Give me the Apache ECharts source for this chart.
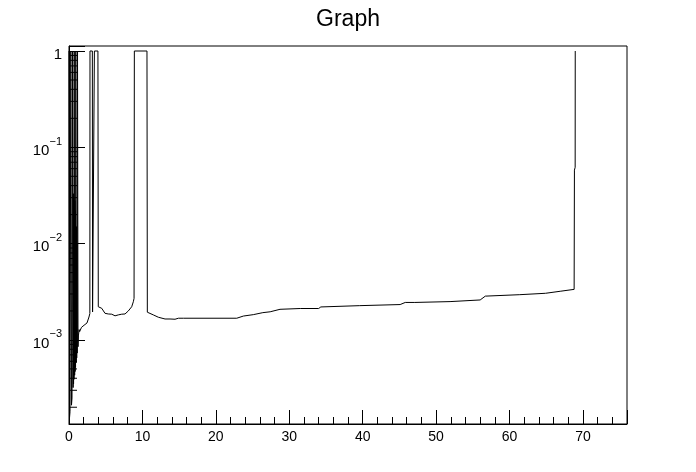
<!DOCTYPE html>
<html>
<head>
<meta charset="utf-8">
<script src="https://cdn.jsdelivr.net/npm/echarts@6/dist/echarts.min.js"></script>
<style>
html,body{margin:0;padding:0;background:#fff;}
#chart{width:696px;height:472px;}
</style>
</head>
<body>
<div id="chart"></div>
<script>
// ---- data ----
const titleText = 'Graph';
const xVals = [
  0.00, 0.07, 0.14, 0.25, 0.29, 0.34, 0.41, 0.48, 0.52, 0.56,
  0.59, 0.62, 0.65, 0.68, 0.71, 0.74, 0.77, 0.80, 0.83, 0.86,
  0.89, 0.93, 0.96, 0.99, 1.02, 1.05, 1.08, 1.11, 1.16, 1.19,
  1.23, 1.28, 1.33, 1.38, 1.45, 1.70, 2.05, 2.18, 2.45, 2.63,
  2.72, 2.84, 2.86, 3.18, 3.21, 3.44, 3.46, 3.94, 3.99, 4.46,
  4.90, 5.35, 5.82, 6.27, 6.72, 7.18, 7.63, 8.08, 8.54, 8.76,
  8.86, 8.90, 10.62, 10.67, 11.48, 12.17, 13.08, 13.76, 14.44, 14.90,
  15.57, 22.85, 23.75, 25.10, 26.40, 27.40, 28.74, 31.50, 34.00, 34.30,
  39.60, 45.10, 45.80, 47.10, 51.90, 56.00, 56.70, 61.40, 64.90, 66.90,
  68.80, 68.84, 68.94, 68.95
];
const yVals = [
  1, 1.55e-4, 1.8e-4, 1, 1, 2.1e-4, 2.5e-4, 1, 1, 3.2e-4,
  0.033, 3.5e-4, 0.03, 3.9e-4, 1, 1, 4.3e-4, 0.028, 4.7e-4, 0.022,
  5.2e-4, 1, 1, 5.8e-4, 0.015, 6.5e-4, 0.01, 7.3e-4, 1, 1,
  8.5e-4, 1.1e-3, 1.15e-3, 1.28e-3, 1.22e-3, 1.35e-3, 1.42e-3, 1.45e-3, 1.5e-3, 1.54e-3,
  1.73e-3, 1.88e-3, 1, 1, 1.95e-3, 1.95e-3, 1, 1, 2.21e-3, 2.13e-3,
  1.89e-3, 1.86e-3, 1.85e-3, 1.78e-3, 1.82e-3, 1.85e-3, 1.86e-3, 2.0e-3, 2.21e-3, 2.49e-3,
  2.7e-3, 1, 1, 1.94e-3, 1.82e-3, 1.72e-3, 1.65e-3, 1.65e-3, 1.64e-3, 1.68e-3,
  1.68e-3, 1.68e-3, 1.77e-3, 1.83e-3, 1.92e-3, 1.96e-3, 2.08e-3, 2.12e-3, 2.12e-3, 2.2e-3,
  2.27e-3, 2.33e-3, 2.45e-3, 2.45e-3, 2.5e-3, 2.6e-3, 2.85e-3, 2.95e-3, 3.05e-3, 3.2e-3,
  3.35e-3, 0.058, 0.062, 1
];
const xTickLabels = [0, 10, 20, 30, 40, 50, 60, 70];
const yMinorTicks = [
  2e-4, 3e-4, 4e-4, 5e-4, 6e-4, 7e-4, 8e-4, 9e-4,
  2e-3, 3e-3, 4e-3, 5e-3, 6e-3, 7e-3, 8e-3, 9e-3,
  2e-2, 3e-2, 4e-2, 5e-2, 6e-2, 7e-2, 8e-2, 9e-2,
  0.2, 0.3, 0.4, 0.5, 0.6, 0.7, 0.8, 0.9
];
const xMin = 0, xMax = 76;
const yMin = 1.34e-4, yMax = 1.127;

// ---- chart ----
const FONT = 'Liberation Sans, Arial, Helvetica, sans-serif';
const chart = echarts.init(document.getElementById('chart'), null, {renderer: 'canvas'});
const lineData = xVals.map((x, i) => [x, yVals[i]]);

const option = {
  animation: false,
  backgroundColor: '#fff',
  title: {
    text: titleText,
    left: 'center',
    top: 3,
    textStyle: {fontFamily: FONT, fontSize: 23, fontWeight: 'normal', color: '#000'}
  },
  grid: {
    left: 69, right: 69, top: 46, bottom: 48,
    show: true, borderColor: '#000', borderWidth: 1, backgroundColor: 'transparent'
  },
  xAxis: [
    {
      type: 'value', min: xMin, max: xMax, interval: 10, position: 'bottom',
      axisLine: {show: true, onZero: false, lineStyle: {color: '#000', width: 1}},
      axisTick: {show: true, inside: true, length: 14, lineStyle: {color: '#000', width: 1}},
      splitLine: {show: false},
      axisLabel: {
        color: '#000', fontSize: 14, fontFamily: FONT, margin: 6,
        formatter: v => (xTickLabels.indexOf(v) >= 0 ? String(v) : '')
      }
    },
    {
      type: 'value', min: xMin, max: xMax, interval: 2, position: 'bottom',
      axisLine: {show: false, onZero: false},
      axisTick: {show: true, inside: true, length: 7, lineStyle: {color: '#000', width: 1}},
      splitLine: {show: false},
      axisLabel: {show: false}
    }
  ],
  yAxis: {
    type: 'log', logBase: 10, min: yMin, max: yMax,
    axisLine: {show: true, onZero: false, lineStyle: {color: '#000', width: 1}},
    axisTick: {show: true, inside: true, length: 16, lineStyle: {color: '#000', width: 1}},
    splitLine: {show: false},
    minorTick: {show: false},
    axisLabel: {
      color: '#000', fontSize: 15, fontFamily: FONT, margin: 7,
      formatter: function (v) {
        const e = Math.log10(v);
        const r = Math.round(e);
        if (Math.abs(e - r) > 1e-6) return '';
        if (r === 0) return '{b|1}';
        return '{b|10}{s|\u2212' + Math.abs(r) + '}';
      },
      rich: {
        b: {fontSize: 15, fontFamily: FONT, color: '#000', lineHeight: 22, verticalAlign: 'bottom'},
        s: {fontSize: 11, fontFamily: FONT, color: '#000', lineHeight: 22, verticalAlign: 'top', padding: [0, 0, 4, 0]}
      }
    }
  },
  series: [
    {
      type: 'line',
      xAxisIndex: 0,
      data: lineData,
      symbol: 'none',
      showSymbol: false,
      lineStyle: {color: '#000', width: 1},
      z: 3
    },
    {
      type: 'custom',
      xAxisIndex: 0,
      data: yMinorTicks.map(v => [xMin, v]),
      silent: true,
      clip: false,
      renderItem: function (params, api) {
        const p = api.coord([api.value(0), api.value(1)]);
        return {
          type: 'line',
          shape: {x1: p[0], y1: p[1], x2: p[0] + 8, y2: p[1]},
          style: {stroke: '#000', lineWidth: 1}
        };
      },
      z: 4
    }
  ]
};
chart.setOption(option);
</script>
</body>
</html>
